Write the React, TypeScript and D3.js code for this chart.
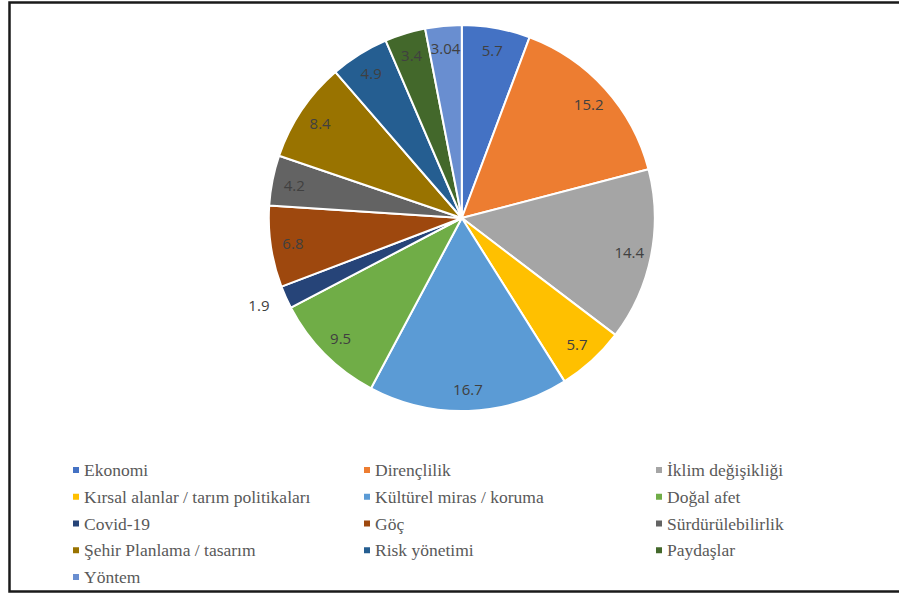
import React from 'react';
import * as d3 from 'd3';

const categories = [
	'Ekonomi',
	'Dirençlilik',
	'İklim değişikliği',
	'Kırsal alanlar / tarım politikaları',
	'Kültürel miras / koruma',
	'Doğal afet',
	'Covid-19',
	'Göç',
	'Sürdürülebilirlik',
	'Şehir Planlama / tasarım',
	'Risk yönetimi',
	'Paydaşlar',
	'Yöntem',
];
const values = [5.7, 15.2, 14.4, 5.7, 16.7, 9.5, 1.9, 6.8, 4.2, 8.4, 4.9, 3.4, 3.04];
const valueLabels = ['5.7', '15.2', '14.4', '5.7', '16.7', '9.5', '1.9', '6.8', '4.2', '8.4', '4.9', '3.4', '3.04'];
const colors = [
	'#4472C4',
	'#ED7D31',
	'#A5A5A5',
	'#FFC000',
	'#5B9BD5',
	'#70AD47',
	'#264478',
	'#9E480E',
	'#636363',
	'#997300',
	'#255E91',
	'#43682B',
	'#698ED0',
];
// slices whose label sits outside the pie
const outsideLabels = ['Covid-19'];

const W = 899;
const H = 594;
const cx = 461.8;
const cy = 218;
const R = 193;

type Datum = { name: string; value: number; label: string };

const App: React.FC = () => {
	const data: Datum[] = categories.map((name, i) => ({
		name,
		value: values[i],
		label: valueLabels[i],
	}));

	const color = d3.scaleOrdinal<string, string>().domain(categories).range(colors);

	const pie = d3
		.pie<Datum>()
		.sort(null)
		.value((d) => d.value);
	const arcs = pie(data);

	const arc = d3.arc<d3.PieArcDatum<Datum>>().innerRadius(0).outerRadius(R);
	const labelArc = d3
		.arc<d3.PieArcDatum<Datum>>()
		.innerRadius(R * 0.885)
		.outerRadius(R * 0.885);
	const outerArc = d3
		.arc<d3.PieArcDatum<Datum>>()
		.innerRadius(R + 18)
		.outerRadius(R + 18);

	// legend grid: 3 columns
	const colX = d3.scaleOrdinal<number, number>().domain([0, 1, 2]).range([73, 364, 656]);
	const rowY = d3
		.scaleLinear()
		.domain([0, 4])
		.range([470, 577]);

	const serif = '"Liberation Serif", "DejaVu Serif", serif';

	return (
		<svg
			width={W}
			height={H}
			style={{ position: 'absolute', left: 0, top: 0, background: '#fff' }}>
			<path
				d={`M${W + 5},2.5 H9.5 V591.5 H${W + 5}`}
				fill='none'
				stroke='#1a1a1a'
				strokeWidth={2.5}
			/>
			<g transform={`translate(${cx},${cy})`}>
				{arcs.map((a) => (
					<path
						key={a.data.name}
						d={arc(a) ?? ''}
						fill={color(a.data.name)}
						stroke='#fff'
						strokeWidth={2}
						strokeLinejoin='round'
					/>
				))}
				{arcs.map((a) => {
					const outside = outsideLabels.includes(a.data.name);
					const [x, y] = outside ? outerArc.centroid(a) : labelArc.centroid(a);
					return (
						<text
							key={'l' + a.data.name}
							x={x}
							y={y}
							textAnchor={outside ? 'end' : 'middle'}
							dominantBaseline='central'
							fontFamily='Open Sans, sans-serif'
							fontSize={15}
							fill='#404040'>
							{a.data.label}
						</text>
					);
				})}
			</g>
			{categories.map((name, i) => {
				const x = colX(i % 3);
				const y = rowY(Math.floor(i / 3));
				return (
					<g key={'lg' + name} transform={`translate(${x},${y})`}>
						<rect x={0} y={-3} width={6} height={6} fill={color(name)} />
						<text
							x={11}
							y={0}
							dominantBaseline='central'
							fontFamily={serif}
							fontSize={17.5}
							fill='#595959'>
							{name}
						</text>
					</g>
				);
			})}
		</svg>
	);
};

export default App;
